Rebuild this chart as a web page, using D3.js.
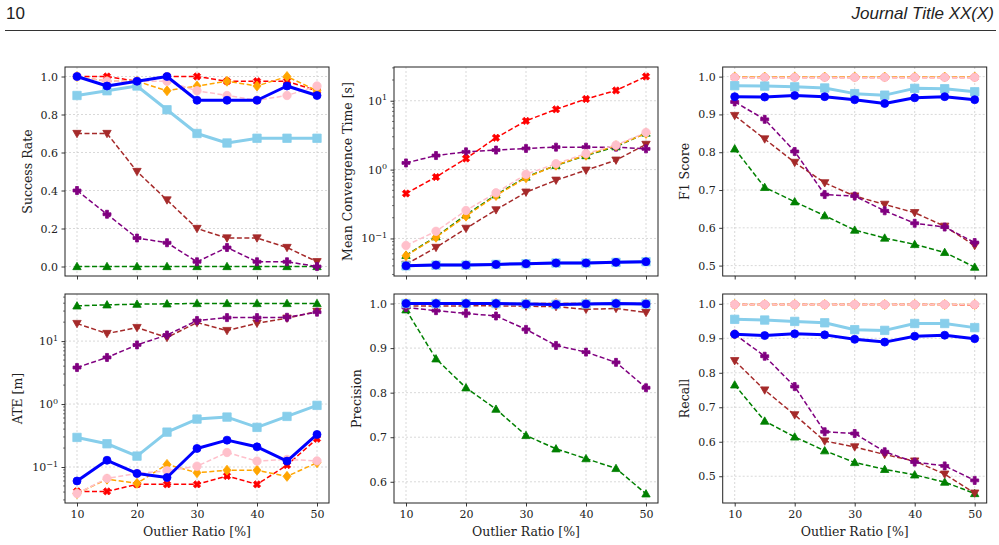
<!DOCTYPE html>
<html>
<head>
<meta charset="utf-8">
<script src="https://cdn.jsdelivr.net/npm/d3@7"></script>
<style>
  body { margin: 0; background: #fff; }
  svg { display: block; }
</style>
</head>
<body>
<div id="chart"></div>
<script>
// x values shared by all panels
const ratios = [10, 15, 20, 25, 30, 35, 40, 45, 50];
const xTicks = [10, 20, 30, 40, 50];

// methods, same order in every metric array below
const methods = ["blue", "skyblue", "red", "orange", "pink", "brown", "purple", "green"];

const successRate = [
  [1.0, 0.95, 0.975, 1.0, 0.875, 0.875, 0.875, 0.95, 0.9],
  [0.9, 0.925, 0.95, 0.825, 0.7, 0.65, 0.675, 0.675, 0.675],
  [1.0, 1.0, 0.975, 1.0, 1.0, 0.975, 0.975, 0.975, 0.925],
  [1.0, 0.975, 0.975, 0.925, 0.95, 0.975, 0.95, 1.0, 0.925],
  [1.0, 0.975, 0.975, 0.975, 0.925, 0.9, 0.875, 0.9, 0.95],
  [0.7, 0.7, 0.5, 0.35, 0.2, 0.15, 0.15, 0.1, 0.025],
  [0.4, 0.275, 0.15, 0.125, 0.025, 0.1, 0.025, 0.025, 0.0],
  [0, 0, 0, 0, 0, 0, 0, 0, 0]
];

const convTime = [
  [0.040, 0.041, 0.041, 0.042, 0.043, 0.044, 0.044, 0.045, 0.046],
  [0.040, 0.041, 0.041, 0.042, 0.043, 0.044, 0.044, 0.045, 0.046],
  [0.45, 0.78, 1.45, 2.9, 5.1, 7.5, 10.6, 14.1, 22.5],
  [0.056, 0.104, 0.211, 0.42, 0.76, 1.16, 1.62, 2.22, 3.35],
  [0.079, 0.127, 0.255, 0.46, 0.855, 1.22, 1.71, 2.27, 3.47],
  [0.042, 0.074, 0.14, 0.26, 0.47, 0.70, 0.98, 1.37, 2.32],
  [1.25, 1.6, 1.81, 1.92, 2.03, 2.12, 2.12, 2.12, 2.0],
  [0.057, 0.106, 0.22, 0.43, 0.78, 1.15, 1.6, 2.15, 3.4]
];

const f1Score = [
  [0.947, 0.946, 0.950, 0.947, 0.939, 0.929, 0.944, 0.947, 0.939],
  [0.976, 0.975, 0.973, 0.970, 0.955, 0.951, 0.969, 0.968, 0.960],
  [0.998, 0.998, 0.998, 0.998, 0.998, 0.998, 0.998, 0.998, 0.998],
  [0.999, 0.999, 0.999, 0.999, 0.999, 0.999, 0.999, 0.999, 0.999],
  [0.998, 0.998, 0.998, 0.998, 0.998, 0.998, 0.998, 0.998, 0.998],
  [0.897, 0.835, 0.773, 0.719, 0.684, 0.662, 0.640, 0.604, 0.553],
  [0.933, 0.887, 0.802, 0.688, 0.684, 0.645, 0.612, 0.602, 0.561],
  [0.809, 0.707, 0.669, 0.632, 0.594, 0.573, 0.556, 0.535, 0.496]
];

const ate = [
  [0.060, 0.128, 0.079, 0.068, 0.197, 0.267, 0.209, 0.124, 0.329],
  [0.295, 0.234, 0.149, 0.358, 0.577, 0.621, 0.426, 0.636, 0.953],
  [0.041, 0.041, 0.053, 0.053, 0.053, 0.072, 0.053, 0.107, 0.281],
  [0.038, 0.064, 0.055, 0.110, 0.081, 0.089, 0.089, 0.071, 0.117],
  [0.038, 0.066, 0.079, 0.087, 0.103, 0.170, 0.124, 0.132, 0.125],
  [19.0, 13.2, 16.4, 11.4, 19.7, 14.7, 19.2, 23.1, 29.5],
  [3.8, 5.5, 8.7, 12.5, 21.2, 23.6, 23.6, 23.9, 28.8],
  [36.3, 37.7, 38.6, 39.1, 39.6, 39.6, 39.6, 39.6, 39.6]
];

const precision = [
  [1.0, 1.0, 1.0, 1.0, 0.999, 0.998, 0.999, 1.0, 0.999],
  [1.0, 1.0, 1.0, 1.0, 0.999, 0.998, 0.999, 1.0, 0.999],
  [1.0, 1.0, 1.0, 1.0, 1.0, 1.0, 1.0, 1.0, 1.0],
  [1.0, 1.0, 1.0, 1.0, 1.0, 1.0, 1.0, 1.0, 1.0],
  [1.0, 1.0, 1.0, 1.0, 1.0, 1.0, 1.0, 1.0, 1.0],
  [0.995, 0.994, 0.995, 0.995, 0.994, 0.993, 0.987, 0.989, 0.980],
  [0.991, 0.984, 0.978, 0.972, 0.942, 0.906, 0.891, 0.868, 0.811],
  [0.986, 0.876, 0.811, 0.763, 0.704, 0.674, 0.652, 0.630, 0.573]
];

const recall = [
  [0.912, 0.908, 0.913, 0.910, 0.897, 0.889, 0.906, 0.909, 0.899],
  [0.955, 0.953, 0.949, 0.945, 0.925, 0.923, 0.943, 0.943, 0.931],
  [0.998, 0.998, 0.998, 0.998, 0.998, 0.998, 0.998, 0.998, 0.997],
  [0.998, 0.998, 0.998, 0.998, 0.998, 0.998, 0.998, 0.998, 0.998],
  [0.998, 0.998, 0.998, 0.998, 0.998, 0.998, 0.998, 0.998, 0.998],
  [0.835, 0.750, 0.678, 0.602, 0.585, 0.563, 0.544, 0.506, 0.451],
  [0.912, 0.848, 0.760, 0.629, 0.624, 0.571, 0.541, 0.530, 0.488],
  [0.765, 0.660, 0.614, 0.574, 0.540, 0.520, 0.504, 0.483, 0.450]
];

// line / marker styles per method
const style = {
  blue:    { color: "#0000ff", width: 3,   dash: null,    marker: "circle",  size: 4.0 },
  skyblue: { color: "#87ceeb", width: 3,   dash: null,    marker: "square",  size: 4.2 },
  red:     { color: "#ff0000", width: 1.5, dash: "5,2.5", marker: "x",       size: 3.8 },
  orange:  { color: "#ffa500", width: 1.5, dash: "5,2.5", marker: "diamond", size: 5.0 },
  pink:    { color: "#ffc0cb", width: 1.5, dash: "5,2.5", marker: "circle",  size: 4.2 },
  brown:   { color: "#a52a2a", width: 1.5, dash: "5,2.5", marker: "tridown", size: 4.2 },
  purple:  { color: "#800080", width: 1.5, dash: "5,2.5", marker: "plus",    size: 4.0 },
  green:   { color: "#008000", width: 1.5, dash: "5,2.5", marker: "triup",   size: 4.2 }
};
const drawOrder = ["green", "brown", "purple", "red", "orange", "pink", "skyblue", "blue"];

// panels
const panels = [
  { data: successRate, label: "Success Rate", log: false, domain: [-0.05, 1.05], ticks: [0, 0.2, 0.4, 0.6, 0.8, 1.0], fmt: ".1f",
    x0: 65, x1: 329, y0: 67, y1: 276, labelX: 28, xLabels: false },
  { data: convTime, label: "Mean Convergence Time [s]", log: true, domain: [0.0285, 30.9], ticks: [0.1, 1, 10],
    x0: 394, x1: 658, y0: 67, y1: 276, labelX: 348, xLabels: false },
  { data: f1Score, label: "F1 Score", log: false, domain: [0.4725, 1.0255], ticks: [0.5, 0.6, 0.7, 0.8, 0.9, 1.0], fmt: ".1f",
    x0: 722.7, x1: 986.7, y0: 67, y1: 276, labelX: 685, xLabels: false },
  { data: ate, label: "ATE [m]", log: true, domain: [0.0268, 56], ticks: [0.1, 1, 10],
    x0: 65, x1: 329, y0: 294, y1: 503, labelX: 18, xLabels: true },
  { data: precision, label: "Precision", log: false, domain: [0.5524, 1.0214], ticks: [0.6, 0.7, 0.8, 0.9, 1.0], fmt: ".1f",
    x0: 394, x1: 658, y0: 294, y1: 503, labelX: 357, xLabels: true },
  { data: recall, label: "Recall", log: false, domain: [0.4224, 1.0285], ticks: [0.5, 0.6, 0.7, 0.8, 0.9, 1.0], fmt: ".1f",
    x0: 722.7, x1: 986.7, y0: 294, y1: 503, labelX: 685, xLabels: true }
];

const W = 999, H = 545;
const serif = "'DejaVu Serif', serif";

const svg = d3.select("#chart").append("svg")
  .attr("width", W)
  .attr("height", H);

// page header
svg.append("text")
  .attr("x", 6).attr("y", 19)
  .style("font-family", "'Liberation Sans', Arial, sans-serif")
  .style("font-size", "17px")
  .style("fill", "#222")
  .text("10");
svg.append("text")
  .attr("x", 994).attr("y", 19)
  .attr("text-anchor", "end")
  .style("font-family", "'Liberation Sans', Arial, sans-serif")
  .style("font-size", "17px")
  .style("font-style", "italic")
  .style("fill", "#222")
  .text("Journal Title XX(X)");
svg.append("line")
  .attr("x1", 5).attr("x2", 996)
  .attr("y1", 30.5).attr("y2", 30.5)
  .attr("stroke", "#333")
  .attr("stroke-width", 1);

// marker path with half-size s centred on 0,0
function markerPath(type, s) {
  if (type === "circle") {
    return d3.symbol(d3.symbolCircle, Math.PI * s * s)();
  }
  if (type === "square") {
    return `M${-s},${-s}H${s}V${s}H${-s}Z`;
  }
  if (type === "diamond") {
    return `M0,${-s}L${s * 0.8},0L0,${s}L${-s * 0.8},0Z`;
  }
  if (type === "triup") {
    return `M0,${-s}L${s},${s * 0.75}L${-s},${s * 0.75}Z`;
  }
  if (type === "tridown") {
    return `M0,${s}L${s},${-s * 0.75}L${-s},${-s * 0.75}Z`;
  }
  // plus / x share one polygon
  const w = s * 0.36;
  let pts = [[-w,-s],[w,-s],[w,-w],[s,-w],[s,w],[w,w],[w,s],[-w,s],[-w,w],[-s,w],[-s,-w],[-w,-w]];
  if (type === "x") {
    const c = Math.SQRT1_2;
    pts = pts.map(([a, b]) => [(a - b) * c, (a + b) * c]);
  }
  return "M" + pts.map(p => p.join(",")).join("L") + "Z";
}

const supMap = { "-1": "\u22121", "0": "0", "1": "1" };

panels.forEach(p => {
  const x = d3.scaleLinear().domain([8, 52]).range([p.x0, p.x1]);
  const y = (p.log ? d3.scaleLog() : d3.scaleLinear()).domain(p.domain).range([p.y1, p.y0]);

  const g = svg.append("g");

  // grid
  const grid = g.append("g")
    .attr("stroke", "#c8c8c8")
    .attr("stroke-width", 0.7)
    .attr("stroke-dasharray", "2,2");
  xTicks.forEach(t => {
    grid.append("line")
      .attr("x1", x(t)).attr("x2", x(t))
      .attr("y1", p.y0).attr("y2", p.y1);
  });
  p.ticks.forEach(t => {
    grid.append("line")
      .attr("x1", p.x0).attr("x2", p.x1)
      .attr("y1", y(t)).attr("y2", y(t));
  });

  // series
  drawOrder.forEach(key => {
    const i = methods.indexOf(key);
    const st = style[key];
    const vals = p.data[i];
    const pts = ratios.map((r, j) => [x(r), y(vals[j])]);

    g.append("path")
      .attr("d", d3.line()(pts))
      .attr("fill", "none")
      .attr("stroke", st.color)
      .attr("stroke-width", st.width)
      .attr("stroke-dasharray", st.dash)
      .attr("stroke-linejoin", "round");

    g.selectAll(null)
      .data(pts)
      .enter()
      .append("path")
      .attr("transform", d => `translate(${d[0]},${d[1]})`)
      .attr("d", markerPath(st.marker, st.size))
      .attr("fill", st.color)
      .attr("stroke", st.color)
      .attr("stroke-width", 0.8);
  });

  // frame
  g.append("rect")
    .attr("x", p.x0).attr("y", p.y0)
    .attr("width", p.x1 - p.x0).attr("height", p.y1 - p.y0)
    .attr("fill", "none")
    .attr("stroke", "#222")
    .attr("stroke-width", 1);

  // x axis
  const xa = g.append("g")
    .attr("transform", `translate(0,${p.y1})`)
    .call(d3.axisBottom(x).tickValues(xTicks).tickSize(3.5).tickPadding(3.5)
      .tickFormat(p.xLabels ? d3.format("d") : () => ""));
  xa.select(".domain").remove();

  // y axis
  const ya = g.append("g")
    .attr("transform", `translate(${p.x0},0)`)
    .call(d3.axisLeft(y).tickValues(p.ticks).tickSize(3.5).tickPadding(3.5)
      .tickFormat(p.log ? () => "" : d3.format(p.fmt)));
  ya.select(".domain").remove();

  if (p.log) {
    ya.selectAll(".tick text").each(function(d) {
      const t = d3.select(this);
      t.append("tspan").text("10");
      t.append("tspan")
        .attr("dy", "-0.55em")
        .style("font-size", "8px")
        .text(supMap[String(Math.round(Math.log10(d)))]);
    });
    // minor ticks
    const minors = [];
    [-2, -1, 0, 1].forEach(e => {
      for (let k = 2; k <= 9; k++) {
        const v = k * Math.pow(10, e);
        if (v > p.domain[0] && v < p.domain[1]) minors.push(v);
      }
    });
    g.append("g")
      .selectAll("line")
      .data(minors)
      .enter()
      .append("line")
      .attr("x1", p.x0 - 2).attr("x2", p.x0)
      .attr("y1", d => y(d)).attr("y2", d => y(d))
      .attr("stroke", "#222")
      .attr("stroke-width", 0.6);
  }

  [xa, ya].forEach(a => {
    a.selectAll(".tick line").attr("stroke", "#222").attr("stroke-width", 0.9);
    a.selectAll(".tick text")
      .style("font-family", serif)
      .style("font-size", "11px")
      .attr("fill", "#222");
  });

  // y label
  g.append("text")
    .attr("transform", `translate(${p.labelX},${(p.y0 + p.y1) / 2}) rotate(-90)`)
    .attr("text-anchor", "middle")
    .attr("dy", "0.35em")
    .style("font-family", serif)
    .style("font-size", "12.5px")
    .style("fill", "#222")
    .text(p.label);

  if (p.xLabels) {
    g.append("text")
      .attr("x", (p.x0 + p.x1) / 2)
      .attr("y", 536)
      .attr("text-anchor", "middle")
      .style("font-family", serif)
      .style("font-size", "12.5px")
      .style("fill", "#222")
      .text("Outlier Ratio [%]");
  }
});
</script>
</body>
</html>
